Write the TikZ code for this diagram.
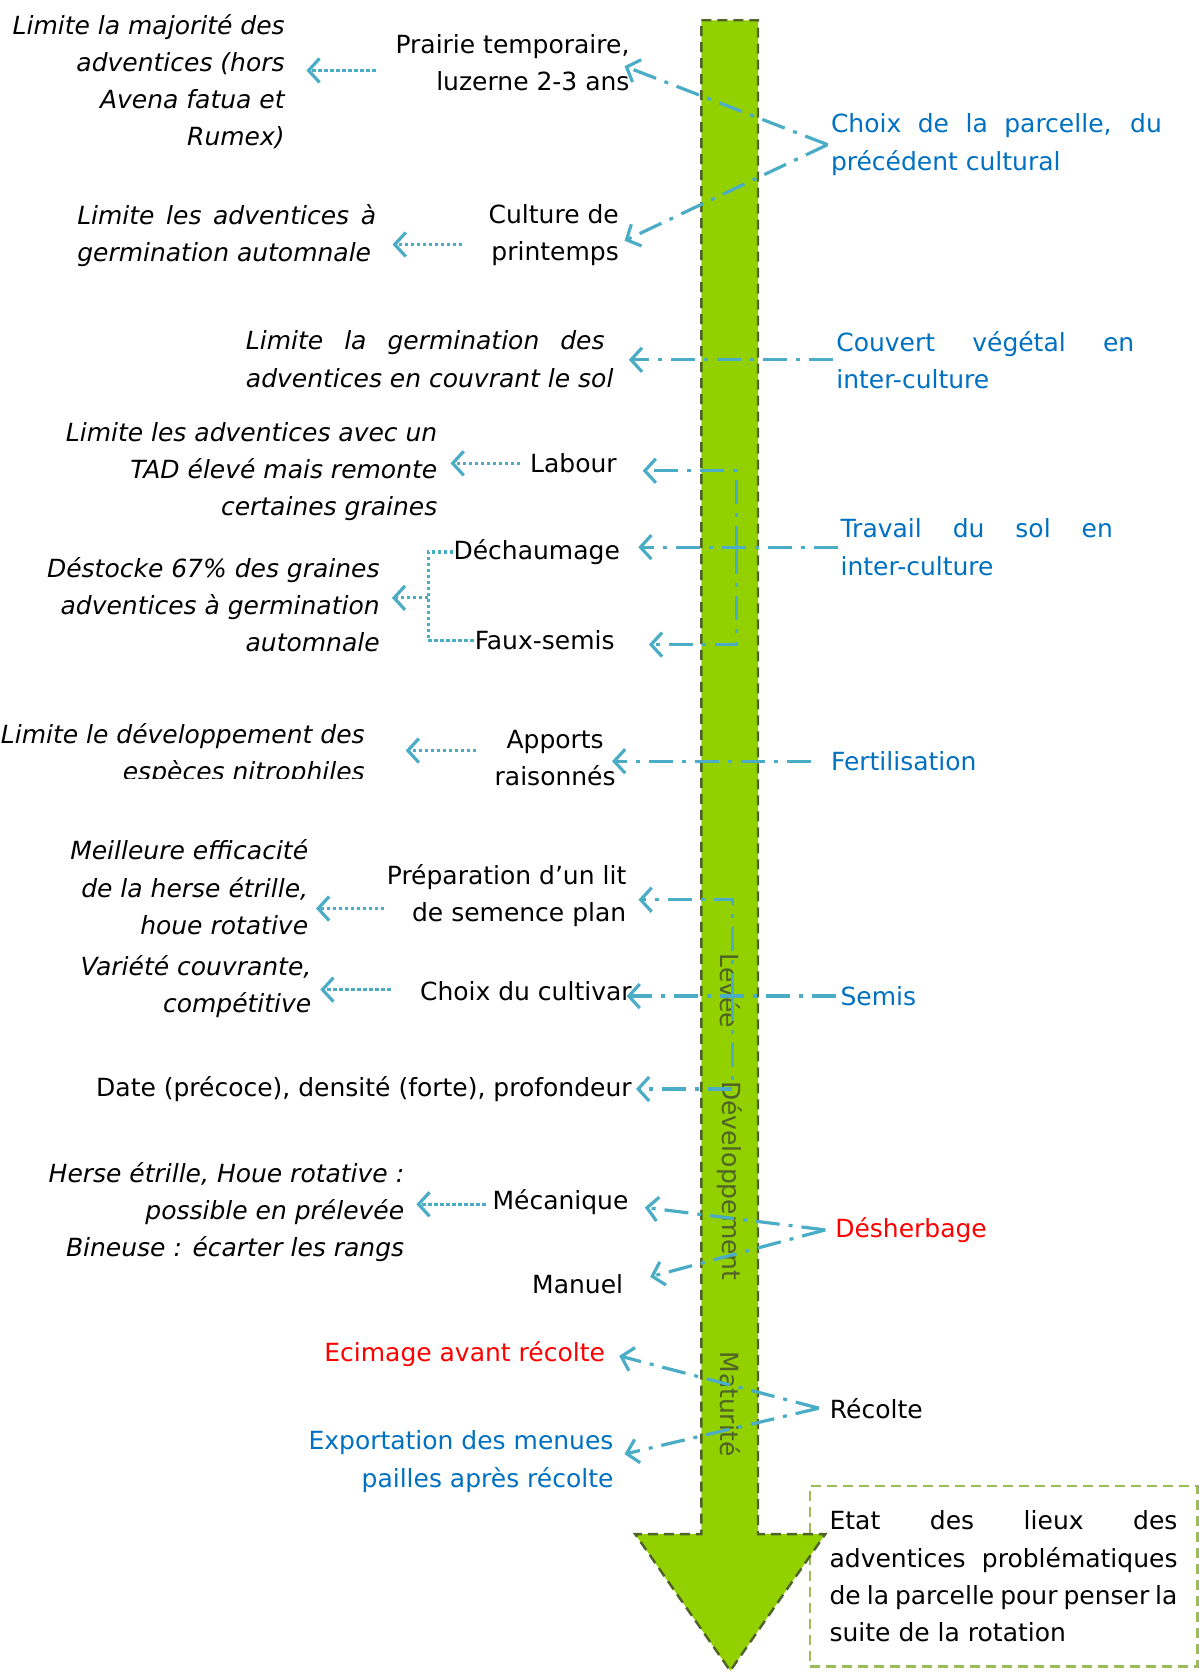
\documentclass[tikz,border=0pt]{standalone}
\usepackage{fontspec}
\setmainfont{DejaVu Sans}
\usetikzlibrary{arrows.meta}
\definecolor{cyanl}{HTML}{4BACC6}
\definecolor{bluet}{HTML}{0070C0}
\definecolor{redt}{HTML}{FF0000}
\definecolor{greenf}{RGB}{146,208,0}
\definecolor{oliv}{HTML}{4F6228}
\definecolor{boxg}{HTML}{9BBB59}
\newcommand{\tf}{\fontsize{12.5pt}{18.6pt}\selectfont}
\newcommand{\jl}[2]{\makebox[#1][s]{#2}}
\begin{document}
\begin{tikzpicture}[x=0.534pt,y=-0.534pt,
  every node/.style={inner sep=0pt,font=\tf},
  lt/.style={font=\tf\itshape,align=right,anchor=east},
  lj/.style={font=\tf\itshape,align=left,anchor=west},
  rt/.style={align=right,anchor=east},
  bj/.style={text=bluet,align=left,anchor=west},
  tipb/.style={-{Straight Barb[length=5.5pt,width=12pt]}},
  dd/.style={cyanl,line width=1.6pt,dash pattern=on 12pt off 4.5pt on 2pt off 4.5pt,tipb},
  dotline/.style={cyanl,line width=1.6pt,dash pattern=on 1.7pt off 1.3pt},
  dotarr/.style={dotline,tipb},
  phase/.style={rotate=-90,text=oliv},
  greenarrow/.style={fill=greenf,draw=oliv,line width=1.2pt,dash pattern=on 5pt off 3pt},
  etatbox/.style={draw=boxg,line width=1.3pt,dash pattern=on 5pt off 3pt,inner xsep=9.9pt,minimum width=193.8pt,minimum height=90.2pt,align=left}
]
\useasboundingbox (0,0) rectangle (1123,1568);

% final box
\node[etatbox] (etat) at (940,1476.5) {\jl{174pt}{Etat des lieux des}\\\jl{174pt}{adventices problématiques}\\\jl{174pt}{de la parcelle pour penser la}\\suite de la rotation\hspace*{\fill}};

% big green arrow
\draw[greenarrow] (657,19) -- (710,19) -- (710,1437) -- (773,1437) -- (684,1565) -- (595,1437) -- (657,1437) -- cycle;

% phases
\node[phase] (levee) at (684,928) {Levée};
\node[phase] (dev) at (684,1106) {Développement};
\node[phase] (mat) at (684,1315) {Maturité};

% texts
\node[lt] (l1) at (267,76.5) {Limite la majorité des\\adventices (hors\\Avena fatua et\\Rumex)};
\node[rt] (prairie) at (590,59) {Prairie temporaire,\\luzerne 2-3 ans};
\node[rt] (culture) at (580,220.5) {Culture de\\printemps};
\node[lj] (l2) at (72,220.5) {\jl{149.5pt}{Limite les adventices à}\\germination automnale};
\node[bj] (choix) at (778,135.5) {\jl{165.5pt}{Choix de la parcelle, du}\\précédent cultural};
\node[lj] (l3) at (230,336.5) {\jl{179.4pt}{Limite la germination des}\\adventices en couvrant le sol};
\node[bj] (couvert) at (783,337) {\jl{149pt}{Couvert végétal en}\\inter-culture};
\node[lt] (l4) at (410,442) {Limite les adventices avec un\\TAD élevé mais remonte\\certaines graines};
\node[rt] (labour) at (578,434) {Labour};
\node[rt] (dech) at (581,517) {Déchaumage};
\node[rt] (faux) at (576,600) {Faux-semis};
\node[bj] (travail) at (787,512.5) {\jl{136.2pt}{Travail du sol en}\\inter-culture};
\node[lt] (l5) at (356,566.5) {Déstocke 67\% des graines\\adventices à germination\\automnale};
\begin{scope}
\clip (0,640) rectangle (480,729);
\node[lt] (l6) at (342,707) {Limite le développement des\\espèces nitrophiles};
\end{scope}
\node[align=center] (apports) at (520,710) {Apports\\raisonnés};
\node[bj] (fert) at (778,713) {Fertilisation};
\node[lt] (l7) at (289,831) {Meilleure efficacité\\de la herse étrille,\\houe rotative};
\node[rt] (prep) at (587,839) {Préparation d’un lit\\de semence plan};
\node[lt] (l8) at (292,924) {Variété couvrante,\\compétitive};
\node[rt] (cultivar) at (592,928) {Choix du cultivar};
\node[rt] (date) at (592,1020) {Date (précoce), densité (forte), profondeur};
\node[bj] (semis) at (787,933) {Semis};
\node[lt] (l9) at (379,1135.5) {Herse étrille, Houe rotative :\\possible en prélevée\\Bineuse : écarter les rangs};
\node[rt] (mec) at (589,1126) {Mécanique};
\node[rt] (manuel) at (584,1203) {Manuel};
\node[anchor=west,text=redt] (desh) at (782,1152) {Désherbage};
\node[rt,text=redt] (ecim) at (567,1268) {Ecimage avant récolte};
\node[rt,text=bluet] (export) at (575,1369) {Exportation des menues\\pailles après récolte};
\node[anchor=west] (recolte) at (777,1319) {Récolte};

% dash-dot connectors
\coordinate (v1) at ([xshift=-1.5pt]choix.west);
\draw[dd] (v1) -- ([shift={(-5,3)}]prairie.east);
\draw[dd] (v1) -- ([shift={(5,5)}]culture.east);
\draw[dd,shorten <=1.5pt,shorten >=7.5pt] (couvert.west) -- (l3.east |- couvert.west);
\draw[dd,shorten <=1pt,shorten >=9pt] (travail.west) -- (dech.east |- travail.west);
\coordinate (jt) at (690,515);
\draw[dd,shorten >=12.8pt] (jt) |- ([yshift=-3.7pt]labour.east);
\draw[dd,shorten >=17pt] (jt) |- ([yshift=-2pt]faux.east);
\draw[dd,shorten <=9.6pt,shorten >=-2pt] (fert.west) -- (apports.east |- fert.west);
\draw[dd,shorten <=2pt,shorten >=-2.7pt] (semis.west) -- (cultivar.east |- semis.west);
\coordinate (js) at (686,934);
\draw[dd,shorten >=5.9pt] (js) |- ([yshift=-2pt]prep.east);
\draw[dd,shorten >=2pt] (js) |- (date.east);
\coordinate (v2) at ([xshift=-4.8pt]desh.west);
\draw[dd] (v2) -- ([shift={(15,5)}]mec.east);
\draw[dd] (v2) -- ([shift={(25,-7)}]manuel.east);
\coordinate (v3) at ([xshift=-5.3pt]recolte.west);
\draw[dd] (v3) -- ([shift={(13,2)}]ecim.east);
\draw[dd] (v3) -- ([shift={(10,-7)}]export.east);

% dotted connectors
\draw[dotarr] ([shift={(85,-10.5)}]l1.east) -- ([shift={(20,-10.5)}]l1.east);
\draw[dotarr] ([shift={(80,8.5)}]l2.east) -- ([shift={(15,8.5)}]l2.east);
\draw[dotarr] ([shift={(77,-8)}]l4.east) -- ([shift={(12,-8)}]l4.east);
\coordinate (jd) at (401,560);
\draw[dotline] (dech.west) -| (jd) |- (faux.west);
\draw[dotarr,shorten >=5.9pt] (jd) -- (l5.east |- jd);
\draw[dotarr] ([shift={(104,-4)}]l6.east) -- ([shift={(38,-4)}]l6.east);
\draw[dotarr] ([shift={(71,20)}]l7.east) -- ([shift={(7,20)}]l7.east);
\draw[dotarr] ([shift={(74,3)}]l8.east) -- ([shift={(8,3)}]l8.east);
\draw[dotarr] ([shift={(76,-7.5)}]l9.east) -- ([shift={(11,-7.5)}]l9.east);
\end{tikzpicture}
\end{document}
